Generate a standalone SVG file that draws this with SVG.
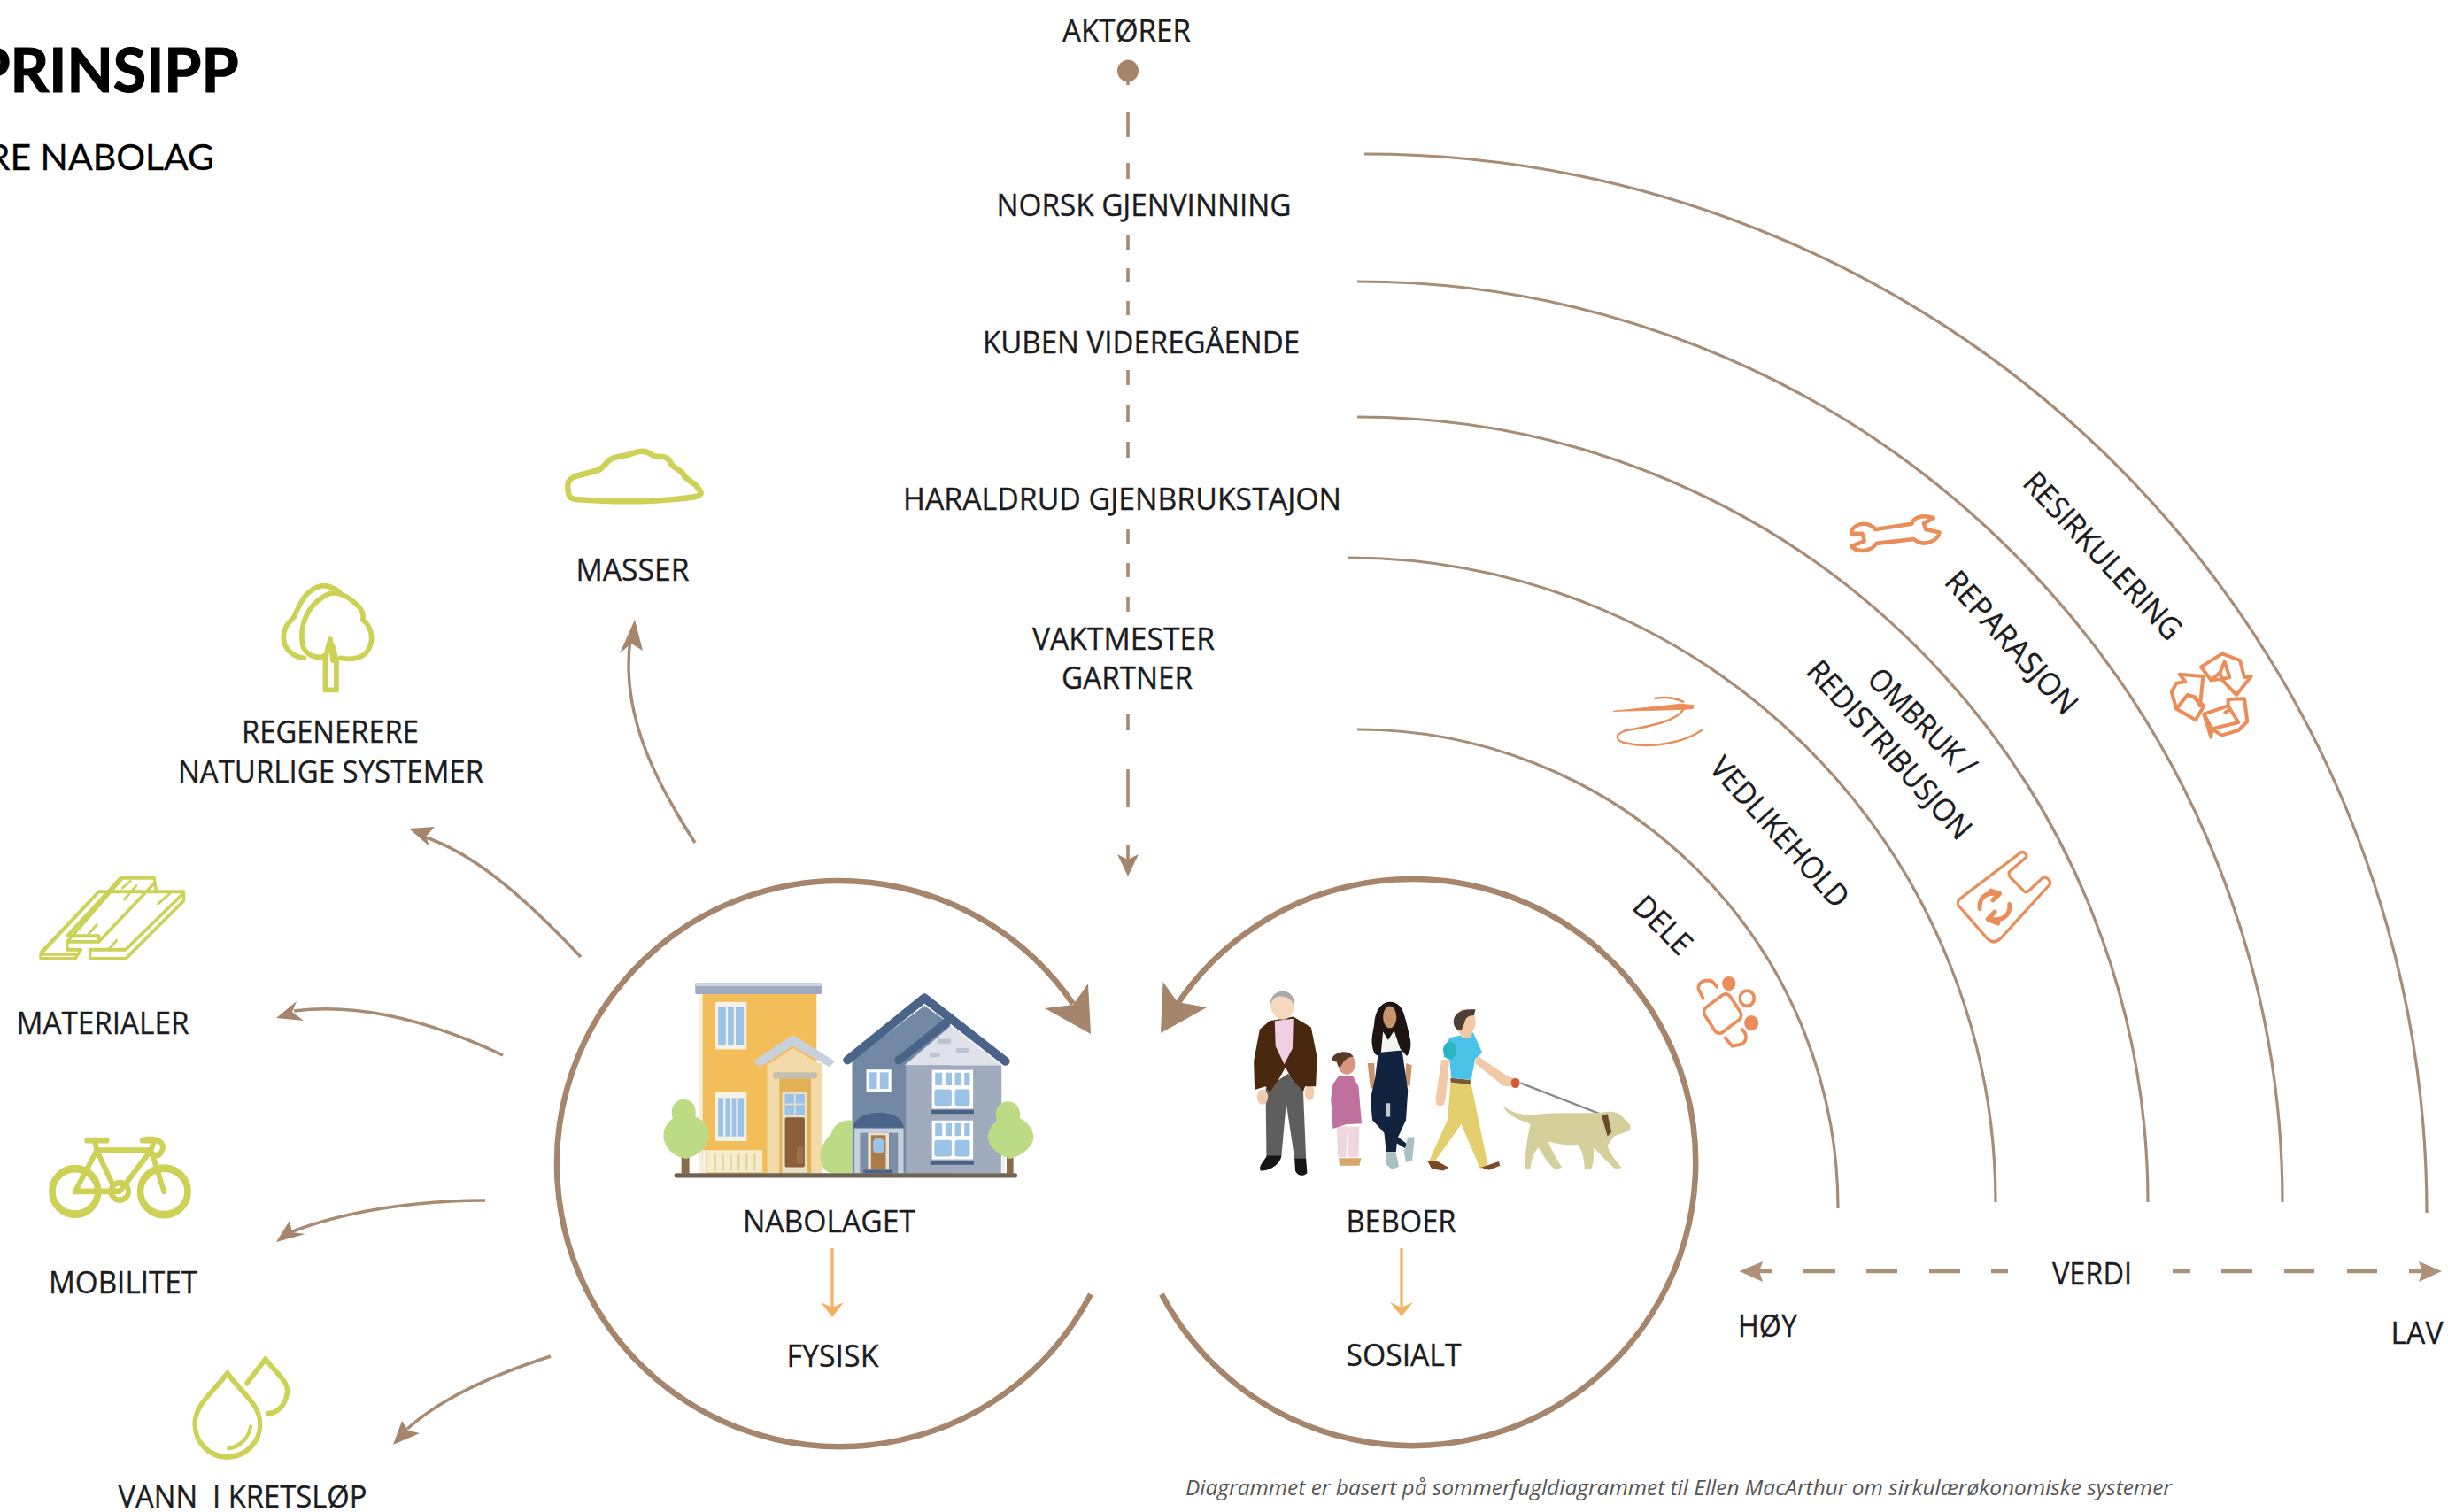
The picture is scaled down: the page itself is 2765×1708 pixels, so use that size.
<svg xmlns="http://www.w3.org/2000/svg" width="2765" height="1708" viewBox="0 0 2765 1708">
<defs>
<style>
text{font-family:"Open Sans","Liberation Sans",sans-serif;fill:#1c1c1e;font-size:34px;stroke:#1c1c1e;stroke-width:.35px}
.t{font-family:Lato,"Open Sans",sans-serif;fill:#000;stroke:#000}
.rot{font-size:35px}
.arc{fill:none;stroke:#a88c75;stroke-width:3.2}
.ring{fill:none;stroke:#a5856b;stroke-width:6.5}
.out{fill:none;stroke:#a98b74;stroke-width:3.5}
.hd{fill:#a5856b}
.dash{stroke:#a98b74;stroke-width:3.6}
.hdash{stroke:#ad9078;stroke-width:4.6}
.or{stroke:#f4b060;stroke-width:3.2;fill:none}
.orh{fill:#f4b060}
.g{fill:none;stroke:#cdd256;stroke-linejoin:round;stroke-linecap:round}
.o{fill:none;stroke:#ea8d58;stroke-linejoin:round;stroke-linecap:round}
.glass{fill:#9bc3e8}.frame{fill:#f5f3e8}
.wh{fill:#fff}
.roof{fill:none;stroke:#496488;stroke-width:22;stroke-linecap:round;stroke-linejoin:round}
.leaf{fill:#bbdb85}.trunk{fill:#8a6a4c}
</style>
</defs>
<rect width="2765" height="1708" fill="#fff"/>

<g id="title">
<text class="t" x="269.500" y="104" text-anchor="end" style="font-size:68px;font-weight:700;stroke-width:1.2px">PRINSIPP</text>
<text class="t" x="242" y="192" text-anchor="end" style="font-size:41px;stroke-width:.3px">RE NABOLAG</text>
</g>

<g id="connectors">
<path class="arc" d="M1541 174A1200 1196 0 0 1 2741 1370"/>
<path class="arc" d="M1533 318A1045 1040 0 0 1 2578 1358"/>
<path class="arc" d="M1533 471A892 887 0 0 1 2426 1358"/>
<path class="arc" d="M1522 630A732 728 0 0 1 2254 1358"/>
<path class="arc" d="M1533 824A543 541 0 0 1 2076 1365"/>

<path class="ring" d="M1232 1462A319.500 319.500 0 1 1 1212 1134"/>
<path class="hd" d="M1232 1168L1180 1139L1212 1135L1229 1111Z"/>
<path class="ring" d="M1312 1462A320 320 0 1 0 1328 1137"/>
<path class="hd" d="M1311 1167L1363 1138L1330 1132L1313.500 1109Z"/>

<path class="out" d="M656 1081C600 1022 540 965 478 945"/>
<path class="hd" d="M462 936L491 934L481 945L485 956Z"/>
<path class="out" d="M568 1192C490 1155 410 1132 332 1142"/>
<path class="hd" d="M312 1150L335 1131L330 1143L343 1153Z"/>
<path class="out" d="M548 1356C470 1356 390 1368 328 1392"/>
<path class="hd" d="M312 1403L327 1379L330 1392L345 1394Z"/>
<path class="out" d="M622 1532C560 1552 500 1578 460 1614"/>
<path class="hd" d="M444 1632L454 1605L461 1616L474 1619Z"/>
<path class="out" d="M785 952C745 890 700 810 712 722"/>
<path class="hd" d="M717 700L726 735L713 727L700 738Z"/>

<g class="dash">
<path d="M1274 80V96M1274 126V155M1274 184V202M1274 265V282M1274 303V319M1274 340V356M1274 418V435M1274 457V477M1274 499V517M1274 598V615M1274 636V652M1274 674V691M1274 807V825M1274 869V912M1274 955V972"/>
</g>
<ellipse class="hd" cx="1274" cy="80" rx="12" ry="12.500"/>
<path class="hd" d="M1274 990L1262 965L1274 971L1286 965Z"/>

<g class="hdash">
<path d="M1985 1436H2002M2037 1436H2073M2108 1436H2143M2179 1436H2214M2249 1436H2268M2454 1436H2474M2509 1436H2544M2580 1436H2614M2651 1436H2685M2721 1436H2741"/>
</g>
<path d="M1964.500 1436L1991 1425L1987 1436L1991 1448Z" fill="#ad9078"/>
<path d="M2758 1436L2732 1425L2736 1436L2732 1448Z" fill="#ad9078"/>

<path class="or" d="M940 1410V1480"/>
<path class="orh" d="M940 1488L927 1471L940 1477L953 1471Z"/>
<path class="or" d="M1583 1410V1480"/>
<path class="orh" d="M1583 1487L1570 1471L1583 1477L1596 1471Z"/>
</g>

<g id="node-aktorer"><text x="1272.500" y="47" text-anchor="middle" textLength="145" lengthAdjust="spacingAndGlyphs">AKTØRER</text></g>
<g id="node-norsk"><text x="1292" y="243.500" text-anchor="middle" textLength="333" lengthAdjust="spacingAndGlyphs">NORSK GJENVINNING</text></g>
<g id="node-kuben"><text x="1289" y="398.500" text-anchor="middle" textLength="358" lengthAdjust="spacingAndGlyphs">KUBEN VIDEREGÅENDE</text></g>
<g id="node-haraldrud"><text x="1267.500" y="576" text-anchor="middle" textLength="495" lengthAdjust="spacingAndGlyphs">HARALDRUD GJENBRUKSTAJON</text></g>
<g id="node-vaktmester">
<text x="1269" y="734" text-anchor="middle" textLength="206" lengthAdjust="spacingAndGlyphs">VAKTMESTER</text>
<text x="1273" y="778" text-anchor="middle" textLength="148" lengthAdjust="spacingAndGlyphs">GARTNER</text>
</g>

<g id="node-masser">
<path class="g" stroke-width="6.500" d="M642 556C640 546 642 541 650 538L676 531C682 528 684 524 688 520C694 515 704 516 712 513C718 511 722 509 728 510C734 511 736 515 742 516C750 515 756 517 758 524C762 530 768 530 772 536C776 544 786 545 788 551C794 557 792 559 786 561C740 568 690 567 650 564C643 563 642 560 642 556Z"/>
<text x="714.500" y="656" text-anchor="middle" textLength="128" lengthAdjust="spacingAndGlyphs">MASSER</text>
</g>

<g id="node-regenerere">
<g transform="scale(.574)">
<path class="g" stroke-width="10" d="M598 1295C575 1292 556 1275 558 1250C560 1232 568 1226 578 1215C590 1190 600 1160 632 1153C645 1151 655 1156 668 1165"/>
<path class="g" stroke-width="10" d="M640 1290C625 1298 600 1290 595 1268C590 1235 600 1195 640 1172C660 1160 680 1170 700 1188C712 1198 716 1210 714 1220C730 1232 735 1255 728 1272C720 1295 695 1300 670 1295"/>
<path class="g" stroke-width="10" d="M640 1358V1295L650 1258L655 1300M662 1358V1300L654 1270M640 1358H662"/>
</g>
<text x="373" y="839" text-anchor="middle" textLength="200" lengthAdjust="spacingAndGlyphs">REGENERERE</text>
<text x="373.500" y="884" text-anchor="middle" textLength="345" lengthAdjust="spacingAndGlyphs">NATURLIGE SYSTEMER</text>
</g>

<g id="node-materialer">
<g transform="translate(0 900) scale(.4464 .5155)">
<path class="g" stroke-width="7.500" d="M103 345L250 208H395L465 208V228L318 355H228V335L318 335L460 215M103 345V355H190L205 335H170V318L310 178H390L395 205M170 318H250V305H170M250 318L390 190M305 178L170 305M103 345H190M250 208L105 340"/>
<path class="g" stroke-width="6" d="M310 200L330 185M315 225L345 195M400 235L430 212M225 300L245 280M275 335L295 315"/>
</g>
<text x="116" y="1168" text-anchor="middle" textLength="195" lengthAdjust="spacingAndGlyphs">MATERIALER</text>
</g>

<g id="node-mobilitet">
<g class="g" transform="translate(0 900) scale(.4464 .5155)" style="stroke-width:17px">
<ellipse cx="190" cy="865" rx="58" ry="50"/>
<ellipse cx="415" cy="865" rx="60" ry="51"/>
<ellipse cx="303" cy="865" rx="22" ry="19" style="stroke-width:13px"/>
<path style="stroke-width:13px" d="M190 865L245 775H382L303 865H190M245 775L240 753M220 753H270M382 775L390 753H360C400 745 420 760 410 775C405 785 398 787 392 785M382 775L415 865M245 775L285 850"/>
</g>
<text x="139" y="1461" text-anchor="middle" textLength="168" lengthAdjust="spacingAndGlyphs">MOBILITET</text>
</g>

<g id="node-vann">
<g class="g" transform="translate(0 900) scale(.4464 .5155)" style="stroke-width:12px">
<path d="M575 1263C540 1305 495 1330 493 1372C492 1415 530 1447 575 1447C620 1447 660 1415 658 1372C656 1330 610 1305 575 1263Z"/>
<path style="stroke-width:9px" d="M578 1428C605 1425 628 1408 634 1380"/>
<path d="M625 1285L672 1232C695 1260 728 1280 727 1302C725 1330 705 1350 678 1352"/>
</g>
<text x="274" y="1703" text-anchor="middle" textLength="281" lengthAdjust="spacingAndGlyphs" xml:space="preserve">VANN  I KRETSLØP</text>
</g>

<g id="node-nabolaget">
<g transform="translate(600 960) scale(.4464)">
<rect x="425" y="365" width="297" height="453" fill="#f3bd59"/>
<rect x="424" y="365" width="10" height="453" fill="#f6f0d8"/>
<rect x="415" y="337" width="320" height="28" rx="3" fill="#9eaabf"/>
<rect x="415" y="337" width="320" height="8" fill="#cdd2dc"/>
<rect class="frame" x="466" y="385" width="79" height="120"/><rect class="glass" x="473" y="397" width="65" height="98"/>
<path d="M495 397V495M515 397V495" stroke="#f5f3e8" stroke-width="5"/>
<rect class="frame" x="466" y="613" width="79" height="124"/><rect class="glass" x="473" y="628" width="65" height="97"/>
<path d="M489 628V725M505 628V725M521 628V725" stroke="#f5f3e8" stroke-width="5"/>
<rect x="434" y="760" width="8" height="58" fill="#f3f2ee"/>
<rect x="443" y="760" width="142" height="56" fill="#f6edcd"/>
<path d="M465 770V812M485 770V812M505 770V812M525 770V812M545 770V812M565 770V812" stroke="#e6d59e" stroke-width="6"/>
<rect x="597" y="540" width="138" height="278" fill="#f2dba8"/>
<path d="M597 545L662 502L735 545Z" fill="#f2dba8"/>
<path d="M562 535L662 468L768 535L755 550L662 497L578 550Z" fill="#c8d0dc"/>
<rect x="628" y="578" width="80" height="240" fill="#e3b257"/>
<rect x="612" y="563" width="112" height="16" rx="6" fill="#c3c0b0"/>
<rect x="635" y="612" width="63" height="205" fill="#e9e0cc"/>
<rect class="glass" x="642" y="618" width="50" height="52"/>
<path d="M667 618V670M642 644H692" stroke="#e9e0cc" stroke-width="4"/>
<rect x="642" y="677" width="50" height="126" rx="4" fill="#8a5f3a"/>
<rect x="672" y="752" width="16" height="42" fill="#9a7148"/>

<path d="M812 530L995 395L1060 440L1062 818H812Z" fill="#7388a4"/>
<rect x="948" y="545" width="242" height="273" fill="#a0abbd"/>
<path d="M945 545L1062 445L1190 545Z" fill="#dfe2ea"/>
<rect x="1189" y="775" width="10" height="43" fill="#f3f2ee"/>
<path class="roof" d="M800 532L995 375L1200 535"/>
<path class="roof" d="M930 532L1050 437"/>
<path d="M870 505L995 395L1040 432L930 520Z" fill="#7388a4"/>
<g fill="#bcc2cf"><rect x="1028" y="478" width="34" height="13" rx="3"/><rect x="1075" y="502" width="32" height="13" rx="3"/><rect x="1008" y="514" width="26" height="11" rx="3"/></g>
<rect class="wh" x="848" y="556" width="63" height="56"/>
<g class="glass"><rect x="855" y="563" width="20" height="42"/><rect x="882" y="563" width="22" height="42"/></g>
<rect class="wh" x="1014" y="557" width="104" height="98"/>
<g class="glass"><rect x="1022" y="564" width="18" height="32"/><rect x="1048" y="564" width="16" height="32"/><rect x="1072" y="564" width="16" height="32"/><rect x="1096" y="564" width="14" height="32"/><rect x="1020" y="606" width="44" height="42" rx="6"/><rect x="1072" y="606" width="38" height="42" rx="6"/></g>
<rect x="1012" y="658" width="108" height="10" fill="#4a6285"/>
<rect class="wh" x="1014" y="685" width="104" height="98"/>
<g class="glass"><rect x="1022" y="692" width="18" height="32"/><rect x="1048" y="692" width="16" height="32"/><rect x="1072" y="692" width="16" height="32"/><rect x="1096" y="692" width="14" height="32"/><rect x="1020" y="734" width="44" height="42" rx="6"/><rect x="1072" y="734" width="38" height="42" rx="6"/></g>
<rect x="1010" y="787" width="110" height="10" fill="#4a6285"/>
<path d="M818 705H942V818H818Z" fill="#c8d0dc"/>
<rect x="832" y="716" width="96" height="102" fill="#7d8fa8"/>
<path d="M815 703Q820 668 880 665Q940 668 943 703Z" fill="#496488"/>
<rect x="852" y="716" width="53" height="94" fill="#e9e0cc"/>
<rect x="860" y="722" width="37" height="88" fill="#a97a4a"/>
<rect class="glass" x="865" y="730" width="28" height="38" rx="10"/>
<rect x="840" y="810" width="75" height="9" rx="4" fill="#496488"/>

<path class="leaf" d="M812 685C785 682 765 695 758 720C740 735 725 765 735 795C740 810 750 818 765 818H812Z"/>
<rect class="trunk" x="380" y="775" width="20" height="44"/>
<path class="leaf" d="M385 632C408 632 420 650 415 675C440 685 455 710 448 735C442 760 415 775 392 782C365 778 340 760 335 730C332 705 345 690 358 680C350 655 362 632 385 632Z"/>
<rect class="trunk" x="1203" y="775" width="17" height="44"/>
<path class="leaf" d="M1205 637C1228 637 1240 655 1236 678C1258 690 1275 712 1270 735C1262 760 1235 775 1212 782C1185 775 1160 755 1155 730C1155 708 1168 695 1178 685C1170 660 1182 637 1205 637Z"/>
<rect x="362" y="818" width="868" height="12" rx="5" fill="#6e6254"/>
</g>
<text x="936.500" y="1392" text-anchor="middle" textLength="195" lengthAdjust="spacingAndGlyphs">NABOLAGET</text>
<text x="940.500" y="1544" text-anchor="middle" textLength="104" lengthAdjust="spacingAndGlyphs">FYSISK</text>
</g>

<g id="node-beboer">
<g transform="translate(1280 960) scale(.4464 .4771)">
<path d="M335 565L375 540L392 530L430 570L437 730H408L387 600L375 725H337Z" fill="#5e5e5e"/>
<path d="M338 724H375C372 745 345 760 322 760C316 748 330 738 338 724Z" fill="#151515"/>
<path d="M408 730H437L440 765C430 775 415 772 410 760Z" fill="#151515"/>
<ellipse cx="327" cy="585" rx="14" ry="18" fill="#f2cbac"/><ellipse cx="446" cy="575" rx="12" ry="18" fill="#f2cbac"/>
<path d="M345 405L405 395L450 420L465 490L462 560L435 560L430 572L400 540L385 515L370 540L345 575L335 560L307 568L305 500L320 425Z" fill="#4a2810"/>
<path d="M358 405L405 400L403 470L382 508L360 465Z" fill="#f0cfe4"/>
<ellipse cx="378" cy="368" rx="30" ry="34" fill="#f6d6bd"/>
<path d="M347 370C345 345 362 335 378 335C398 335 410 350 408 372C402 352 385 345 370 347C358 348 350 355 347 370Z" fill="#a9a9a9"/>
<path d="M515 655H572L570 728H545L542 670L538 728H518Z" fill="#f0d7dd"/>
<path d="M520 730H577L572 748H522Z" fill="#d9a66c"/>
<path d="M520 535H555L570 560L578 648L540 650L505 660L500 590L505 555Z" fill="#c0709c"/>
<ellipse cx="540" cy="507" rx="22" ry="25" fill="#d9957e"/>
<path d="M505 490C515 478 545 472 557 490C545 490 535 495 527 510C522 520 516 510 515 502C508 503 500 498 505 490Z" fill="#5a3b2a"/>
<path d="M650 360C625 360 612 385 610 410C608 430 600 445 606 470C612 495 628 490 640 470L660 470L675 490C692 500 708 475 700 445C695 425 692 410 687 395C682 375 670 360 650 360Z" fill="#1e1412"/>
<ellipse cx="649" cy="396" rx="17" ry="26" fill="#c9946b"/>
<path d="M632 430L645 450L660 428L675 470L700 497L680 505L625 500Z" fill="#f4f4f2"/>
<path d="M593 505L610 505L612 565H600Z" fill="#c9946b"/><path d="M690 505L705 510L700 560L688 555Z" fill="#c9946b"/>
<path d="M620 480L680 475L695 570L690 640L670 680L698 700L690 708L667 695L665 715L640 715L635 670L605 640L600 590L612 540Z" fill="#12233f"/>
<path d="M640 600V632H650V600Z" fill="#c8c8c8"/>
<path d="M640 718H665L672 750L655 757L640 745Z" fill="#a9c0c4"/>
<path d="M695 680L712 680L706 735L690 740L685 715Z" fill="#a9c0c4"/>
<path d="M780 497L800 497L790 590L785 605L768 605L765 590Z" fill="#f2c9a6"/>
<path d="M870 487L945 535L975 545L970 562L935 558L865 505Z" fill="#f2c9a6"/>
<path d="M803 550L855 555L897 745L878 755L830 650L765 735L748 738L795 640Z" fill="#e3cf6d"/>
<path d="M803 540L853 545L853 556L803 550Z" fill="#7a5a2a"/>
<path d="M745 738L770 738L798 752L785 760L755 755Z" fill="#7a4a24"/>
<path d="M880 752L925 738L928 748L900 758Z" fill="#7a4a24"/>
<path d="M800 445L860 433L883 480L865 495L855 545L805 540L800 495L785 490Z" fill="#4bc3e8"/>
<ellipse cx="801" cy="475" rx="17" ry="21" fill="#2ab5c0"/>
<ellipse cx="840" cy="408" rx="26" ry="31" fill="#f2c9a6"/>
<path d="M812 415C805 392 825 375 866 378L862 392C845 392 840 400 838 410L830 428C822 428 815 424 812 415Z" fill="#4f3d38"/>
<path d="M828 428L858 430L855 445L830 445Z" fill="#f2c9a6"/>
<path d="M980 552L1180 625" stroke="#8a8a8a" stroke-width="5"/>
<ellipse cx="967" cy="552" rx="11" ry="12" fill="#d4593a"/>
<path d="M935 606C950 618 975 628 1010 628C1060 620 1130 625 1185 622C1215 615 1235 625 1245 640C1258 650 1262 658 1255 665C1240 672 1225 672 1215 680L1200 700C1205 720 1225 740 1235 752L1222 757C1205 745 1180 720 1165 705C1165 725 1165 745 1158 757L1142 755C1142 735 1135 710 1125 698C1095 700 1065 695 1050 690C1060 715 1080 745 1085 752L1068 757C1050 745 1035 720 1025 705C1010 720 1005 745 1005 757L992 755C990 730 995 690 1005 650C985 640 950 635 935 606Z" fill="#d5cf9c"/>
<path d="M1185 630L1200 625L1210 668L1200 678Z" fill="#6e4a2a"/>
</g>
<text x="1582.500" y="1392" text-anchor="middle" textLength="124" lengthAdjust="spacingAndGlyphs">BEBOER</text>
<text x="1585.500" y="1543" text-anchor="middle" textLength="130" lengthAdjust="spacingAndGlyphs">SOSIALT</text>
</g>

<g id="node-resirkulering">
<text class="rot" transform="translate(2375 628) rotate(47)" y="12" text-anchor="middle" textLength="244" lengthAdjust="spacingAndGlyphs">RESIRKULERING</text>
<g class="o" transform="translate(2420 710) scale(.3333)" stroke-width="12">
<path d="M198 130L270 85L330 108L345 165L368 162L318 225L268 172L295 165L278 112L262 150L232 175Z"/>
<path d="M262 150L270 170L232 175"/>
<path d="M125 155L205 162L195 262L178 232L152 225L115 272L98 215L115 185L145 180Z"/>
<path d="M115 272L180 310L208 262L172 232"/>
<path d="M208 290L290 262V240L345 238L355 315L325 345L268 362L235 340L232 368Z"/>
<path d="M290 262L325 318L235 340L208 290M280 285L295 275"/>
</g>
</g>

<g id="node-reparasjon">
<text class="rot" transform="translate(2272 726) rotate(48)" y="12" text-anchor="middle" textLength="204" lengthAdjust="spacingAndGlyphs">REPARASJON</text>
<g class="o" transform="translate(1780 500) scale(.4464 .4785)" stroke-width="9.500">
<path d="M758 205L850 192C853 178 875 168 905 178L880 190L885 205L920 212C915 232 880 248 855 228L760 238C750 255 715 262 697 245L730 232L725 215L697 215C695 195 735 180 758 205Z"/>
</g>
</g>

<g id="node-ombruk">
<text class="rot" transform="translate(2171 816) rotate(45)" y="12" text-anchor="middle" textLength="156" lengthAdjust="spacingAndGlyphs">OMBRUK /</text>
<text class="rot" transform="translate(2134 847) rotate(48)" y="12" text-anchor="middle" textLength="258" lengthAdjust="spacingAndGlyphs">REDISTRIBUSJON</text>
<g class="o" transform="translate(1780 500) scale(.4464 .4785)" stroke-width="7">
<path d="M970 1078L1125 968C1132 964 1140 970 1140 978L1098 1012C1095 1015 1095 1020 1098 1025L1135 1060C1140 1063 1143 1060 1147 1057L1180 1028C1190 1022 1202 1035 1200 1042L1075 1170C1062 1182 1050 1180 1040 1170L970 1095C965 1090 965 1083 970 1078Z"/>
<path stroke-width="11" d="M1022 1100C1018 1075 1040 1060 1062 1065M1097 1090C1100 1115 1080 1130 1050 1125M1050 1058L1072 1065L1055 1080M1068 1135L1042 1125L1060 1108"/>
</g>
</g>

<g id="node-vedlikehold">
<text class="rot" transform="translate(2010 940) rotate(48)" y="12" text-anchor="middle" textLength="215" lengthAdjust="spacingAndGlyphs">VEDLIKEHOLD</text>
<g class="o" transform="translate(1780 500) scale(.4464 .4785)" stroke-width="2">
<path d="M95 634L265 617L298 620L296 628L268 630L95 634Z" fill="#ea8d58"/>
<path stroke-width="5" d="M200 604C225 600 250 602 272 612M272 630C255 655 200 668 125 680C95 690 100 705 130 710C190 722 270 710 320 678"/>
</g>
</g>

<g id="node-dele">
<text class="rot" transform="translate(1878 1045) rotate(45)" y="12" text-anchor="middle" textLength="78" lengthAdjust="spacingAndGlyphs">DELE</text>
<g class="o" transform="translate(1780 500) scale(.4464 .4785)" stroke-width="8">
<path d="M322 1312L310 1290C308 1275 325 1265 345 1272L357 1285"/>
<rect x="332" y="1312" width="78" height="72" rx="14" transform="rotate(-35 371 1348)"/>
<circle cx="433" cy="1312" r="18"/>
<path d="M378 1405L395 1425L420 1420C435 1410 432 1395 420 1385"/>
<circle cx="387" cy="1277" r="17" fill="#ea8d58" stroke="none"/>
<circle cx="444" cy="1370" r="18" fill="#ea8d58" stroke="none"/>
</g>
</g>

<g id="node-verdi">
<text x="2363" y="1451" text-anchor="middle" textLength="90" lengthAdjust="spacingAndGlyphs">VERDI</text>
<text x="1996.500" y="1510" text-anchor="middle" textLength="67" lengthAdjust="spacingAndGlyphs">HØY</text>
<text x="2730" y="1518" text-anchor="middle" textLength="59" lengthAdjust="spacingAndGlyphs">LAV</text>
</g>

<g id="caption">
<text x="1339" y="1689" font-style="italic" textLength="1114" lengthAdjust="spacingAndGlyphs" style="font-size:24px;fill:#555;stroke:none">Diagrammet er basert på sommerfugldiagrammet til Ellen MacArthur om sirkulærøkonomiske systemer</text>
</g>
</svg>
